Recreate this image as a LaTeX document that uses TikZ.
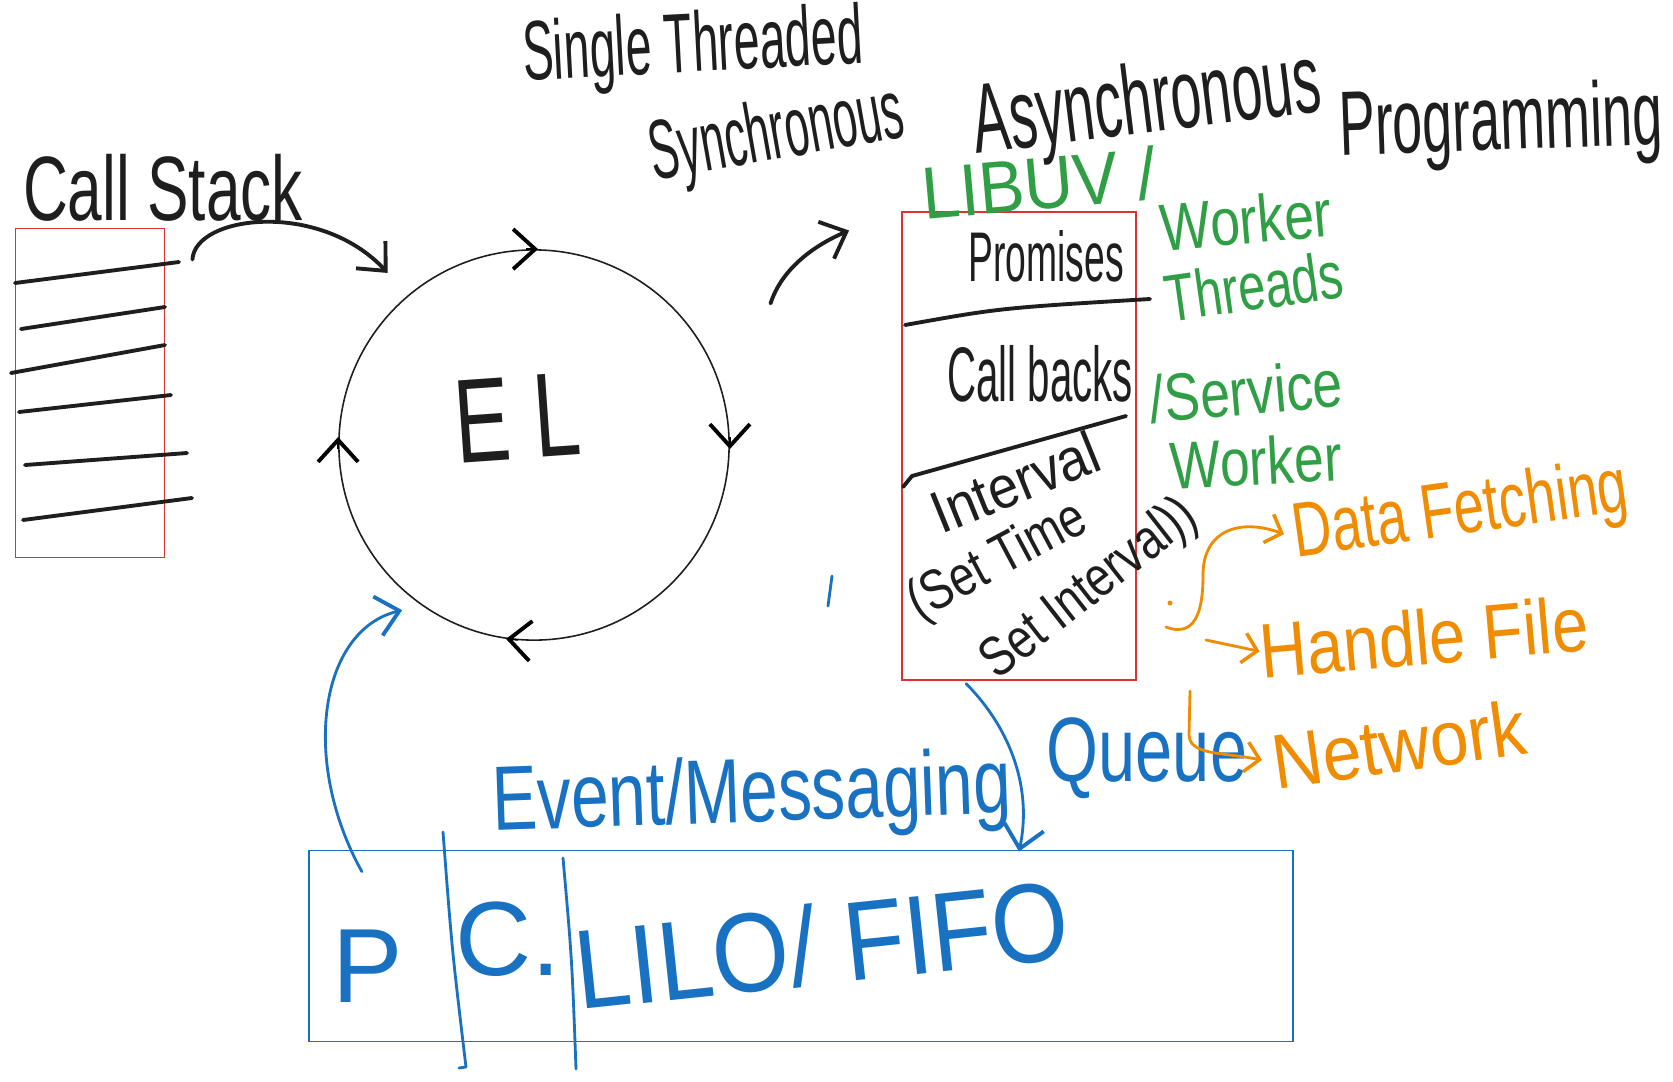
\documentclass[tikz,border=0pt]{standalone}
\usepackage{fontspec}
\setmainfont{Liberation Sans}
\usetikzlibrary{arrows.meta}
\definecolor{inkblack}{HTML}{1E1E1E}
\definecolor{inkred}{HTML}{E03131}
\definecolor{inkblue}{HTML}{1971C2}
\definecolor{inkgreen}{HTML}{2F9E44}
\definecolor{inkorange}{HTML}{F08C00}
\newcommand{\handtext}[2]{\scalebox{#1}[1]{#2}}
\tikzset{
  pen/.style={line width=1.1pt, line cap=round, line join=round},
  thin pen/.style={line width=0.45pt},
  barb/.style={-{Straight Barb[length=2.2mm,width=4mm,line width=1.1pt]}},
  small barb/.style={-{Straight Barb[length=1.4mm,width=3mm,line width=1pt]}},
  redbox/.style={draw=inkred, line width=0.5pt, rectangle, inner sep=0pt},
  bluebox/.style={draw=inkblue, line width=0.5pt, rectangle, inner sep=0pt},
  writing/.style={inner sep=0pt, font=\fontsize{#1}{#1}\selectfont},
}
\begin{document}
\begin{tikzpicture}[x=0.01cm, y=-0.01cm]
  \fill[white] (0,0) rectangle (1673,1081);
  \useasboundingbox (0,0) rectangle (1673,1081);

  % Define nodes
  \node[redbox, minimum width=1.49cm, minimum height=3.29cm] (stack) at (90,393) {};
  \node[redbox, minimum width=2.34cm, minimum height=4.67cm] (tasks) at (1019,446) {};
  \node[bluebox, minimum width=9.84cm, minimum height=1.91cm] (queue) at (801,946) {};
  \node[circle, draw=inkblack, thin pen, minimum size=3.9cm, inner sep=0pt] (el) at (534,445) {};

  \node[writing=26, text=inkblack] (callstack) at (163,188) {\handtext{0.68}{Call Stack}};
  \node[writing=24, text=inkblack, rotate=3] (single) at (693,50) {\handtext{0.55}{Single Threaded}};
  \node[writing=24, text=inkblack, rotate=10] (sync) at (777,137) {\handtext{0.52}{Synchronous}};
  \node[writing=28, text=inkblack, rotate=7] (async) at (1147,107) {\handtext{0.56}{Asynchronous}};
  \node[writing=26, text=inkblack, rotate=2] (prog) at (1501,126) {\handtext{0.59}{Programming}};
  \node[writing=34, text=inkblack, rotate=4] (eltext) at (517,418) {\handtext{0.7}{E L}};

  \node[writing=20, text=inkblack] (promises) at (1046,256) {\handtext{0.53}{Promises}};
  \node[writing=22, text=inkblack] (callbacks) at (1040,374) {\handtext{0.52}{Call backs}};
  \node[writing=17, text=inkblack, rotate=22] (interval) at (1015,482) {\handtext{0.9}{Interval}};
  \node[writing=16, text=inkblack, rotate=28] (settime) at (998,562) {\handtext{0.8}{(Set Time}};
  \node[writing=16, text=inkblack, rotate=38] (setinterval) at (1090,590) {\handtext{0.8}{Set Interval))}};

  \node[writing=21, text=inkgreen, rotate=5] (libuv) at (1039,183) {\handtext{0.92}{LIBUV /}};
  \node[writing=19, text=inkgreen, rotate=5] (worker) at (1246,220) {\handtext{0.8}{Worker}};
  \node[writing=19, text=inkgreen, rotate=8] (threads) at (1254,286) {\handtext{0.73}{Threads}};
  \node[writing=19, text=inkgreen, rotate=5] (service) at (1246,391) {\handtext{0.8}{/Service}};
  \node[writing=19, text=inkgreen, rotate=3] (worker2) at (1256,461) {\handtext{0.8}{Worker}};

  \node[writing=22, text=inkorange, rotate=8] (datafetch) at (1461,514) {\handtext{0.7}{Data Fetching}};
  \node[writing=22, text=inkorange, rotate=5] (handle) at (1424,637) {\handtext{0.84}{Handle File}};
  \node[writing=22, text=inkorange, rotate=8] (network) at (1399,744) {\handtext{0.9}{Network}};

  \node[writing=26, text=inkblue, rotate=2] (messaging) at (752,798) {\handtext{0.74}{Event/Messaging}};
  \node[writing=26, text=inkblue] (queuetext) at (1147,758) {\handtext{0.73}{Queue}};
  \node[writing=30, text=inkblue] (producer) at (368,966) {P};
  \node[writing=30, text=inkblue] (consumer) at (508,939) {C.};
  \node[writing=32, text=inkblue, rotate=6] (order) at (822,944) {\handtext{0.88}{LILO/ FIFO}};

  % Stack frames
  \foreach \xa/\ya/\xb/\yb in {15/283/179/262, 21/329/165/307, 11/373/165/345,
                               19/412/171/395, 25/465/187/453, 23/520/192/498}
    \draw[pen, inkblack] (\xa,\ya) -- (\xb,\yb);

  % Task queue dividers
  \draw[pen, inkblack] (905,325) .. controls (1000,308) .. (1150,299);
  \draw[pen, inkblack] (903,487) -- (912,476) -- (1126,416);

  % Consumer dividers
  \draw[pen, inkblue, line width=0.8pt] (443,832) .. controls (452,950) .. (466,1067) -- (459,1068);
  \draw[pen, inkblue, line width=0.8pt] (563,858) .. controls (572,960) .. (576,1069);
  \draw[pen, inkblue, line width=0.8pt] (832,576) -- (828,606);

  % Loop direction
  \draw[thin pen, barb] ([shift={(-8,0)}]el.north) -- ([shift={(4,0)}]el.north);
  \draw[thin pen, barb] ([shift={(0,-8)}]el.east) -- ([shift={(0,4)}]el.east);
  \draw[thin pen, barb] ([shift={(-16,-1)}]el.south) -- ([shift={(-28,-2)}]el.south);
  \draw[thin pen, barb] ([shift={(0,4)}]el.west) -- ([shift={(0,-8)}]el.west);

  % Connect nodes
  \draw[pen, inkblack, barb, shorten >=3mm] ([shift={(27,32)}]stack.north east)
    .. controls (195,215) and (320,200) .. (el.130);
  \draw[pen, inkblack, barb] ([shift={(98,-3)}]el.north east)
    .. controls (782,268) and (815,245) .. ([shift={(-52,19)}]tasks.north west);
  \draw[pen, inkblue, line width=0.8pt, barb] ([shift={(-53,3)}]tasks.south)
    .. controls (1012,730) and (1032,790) .. ([shift={(218,2)}]queue.north);
  \draw[pen, inkblue, line width=0.8pt, barb, shorten >=2mm] ([shift={(54,22)}]queue.north west)
    .. controls (300,760) and (320,630) .. (el.235);

  \fill[inkorange] (1170,603) circle[radius=2.5];
  \draw[pen, inkorange, line width=0.8pt, small barb, shorten >=1mm] (1166,627)
    .. controls (1200,640) and (1203,600) .. (1203,575)
    .. controls (1203,530) and (1240,518) .. (datafetch.west);
  \draw[pen, inkorange, line width=0.8pt, small barb] (1206,640) -- (handle.west);
  \draw[pen, inkorange, line width=0.8pt, small barb, shorten >=1mm] (1190,691) -- (1189,735)
    .. controls (1190,755) and (1220,752) .. (network.west);

\end{tikzpicture}
\end{document}
